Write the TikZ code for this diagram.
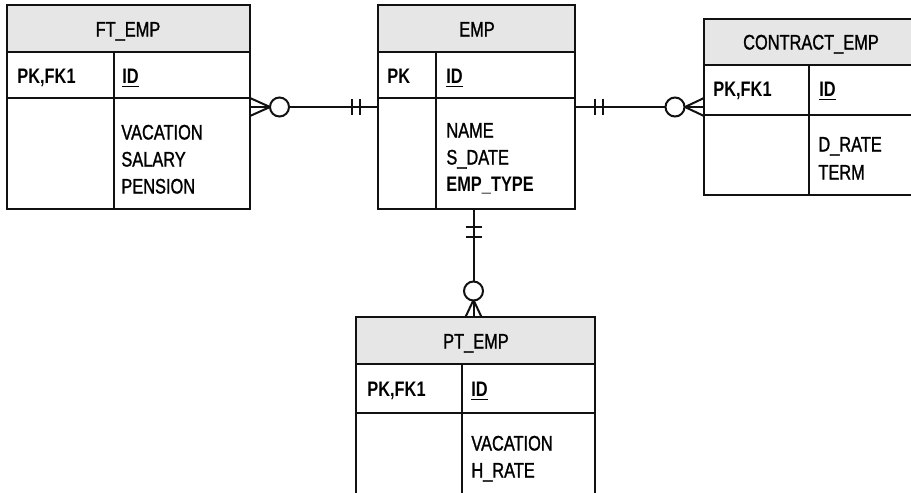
\documentclass[tikz,border=0pt]{standalone}
\usepackage{fontspec}
\setmainfont{Liberation Sans}[FakeStretch=0.78,
  UprightFeatures={FakeBold=1.2}]
\usetikzlibrary{positioning,calc}
\definecolor{hdrGray}{HTML}{E6E6E6}
\definecolor{ink}{HTML}{111111}

\begin{document}
\begin{tikzpicture}[x=0.5pt,y=-0.5pt,
  font=\fontsize{10.5}{13.5}\selectfont,
  hdr/.style={fill=hdrGray,draw=ink,line width=1.2pt},
  box/.style={draw=ink,line width=1.2pt},
  rel/.style={draw=ink,line width=1pt},
  ring/.style={draw=ink,line width=1pt,fill=white},
  txt/.style={anchor=west,inner sep=0pt,text height=7.5pt,text depth=0pt},
  ttl/.style={inner sep=0pt,text height=7.5pt,text depth=0pt}]
\useasboundingbox (0,0) rectangle (911,493);
\clip (0,0) rectangle (911,493);
% --- FT_EMP ---
\path[hdr] (7,5) rectangle (250,52);
\draw[box] (7,52) rectangle (250,209);
\draw[box] (114,52) -- (114,209) (7,98) -- (250,98);
\node[ttl] (ftT) at (128,29) {FT\_EMP};
\node[txt] (ftK) at (17,76) {\bfseries PK,FK1};
\node[txt] (ftId) at (122,76) {\bfseries\underline{ID}};
\foreach \y/\n/\t in {132/a/VACATION,159/b/SALARY,186/c/PENSION}
  \node[txt] (ft\n) at (121,\y) {\t};
% --- EMP ---
\path[hdr] (378,5) rectangle (575,52);
\draw[box] (378,52) rectangle (575,209);
\draw[box] (436,52) -- (436,209) (378,98) -- (575,98);
\node[ttl] (empT) at (477,29) {EMP};
\node[txt] (empK) at (387,76) {\bfseries PK};
\node[txt] (empId) at (446,76) {\bfseries\underline{ID}};
\foreach \y/\n/\t in {130/a/NAME,157/b/S\_DATE}
  \node[txt] (emp\n) at (446,\y) {\t};
\node[txt] (empc) at (446,184) {\bfseries EMP\_TYPE};
% --- CONTRACT_EMP ---
\path[hdr] (704,19) rectangle (918,65);
\draw[box] (704,65) rectangle (918,195);
\draw[box] (809,65) -- (809,195) (704,115) -- (918,115);
\node[ttl] (conT) at (811,42) {CONTRACT\_EMP};
\node[txt] (conK) at (713,89) {\bfseries PK,FK1};
\node[txt] (conId) at (819,89) {\bfseries\underline{ID}};
\foreach \y/\n/\t in {144/a/D\_RATE,172/b/TERM}
  \node[txt] (con\n) at (818,\y) {\t};
% --- PT_EMP ---
\path[hdr] (356,317) rectangle (595,364);
\draw[box] (356,364) -- (356,500) (595,364) -- (595,500) (356,364) -- (595,364);
\draw[box] (462,364) -- (462,500) (356,413) -- (595,413);
\node[ttl] (ptT) at (476,341) {PT\_EMP};
\node[txt] (ptK) at (367,389) {\bfseries PK,FK1};
\node[txt] (ptId) at (471,389) {\bfseries\underline{ID}};
\foreach \y/\n/\t in {443/a/VACATION,470/b/H\_RATE}
  \node[txt] (pt\n) at (471,\y) {\t};
% --- relationship ends ---
\coordinate (ftR) at (250,107);
\coordinate (empL) at (378,107);
\coordinate (empR) at (575,107);
\coordinate (conL) at (704,107);
\coordinate (empB) at (473.5,209);
\coordinate (ptTop) at (473.5,317);
% FT_EMP >o----|| EMP
\draw[rel] (ftR) -- (empL);
\draw[rel] ($(ftR)+(0,-9)$) -- ($(ftR)+(20,0)$) -- ($(ftR)+(0,9)$);
\draw[ring] ($(ftR)+(29.5,0)$) circle (9.5);
\foreach \d in {-26,-18} \draw[rel] ($(empL)+(\d,-8)$) -- ($(empL)+(\d,8)$);
% EMP ||----o< CONTRACT_EMP
\draw[rel] (empR) -- (conL);
\draw[rel] ($(conL)+(0,-9)$) -- ($(conL)+(-19,0)$) -- ($(conL)+(0,9)$);
\draw[ring] ($(conL)+(-29,0)$) circle (9.5);
\foreach \d in {20,28} \draw[rel] ($(empR)+(\d,-8)$) -- ($(empR)+(\d,8)$);
% EMP ||----o< PT_EMP
\draw[rel] (empB) -- (ptTop);
\draw[rel] ($(ptTop)+(-8,0)$) -- ($(ptTop)+(0,-17)$) -- ($(ptTop)+(8,0)$);
\draw[ring] ($(ptTop)+(0,-26)$) circle (9.5);
\foreach \d in {18,28} \draw[rel] ($(empB)+(-8,\d)$) -- ($(empB)+(8,\d)$);
\end{tikzpicture}
\end{document}
